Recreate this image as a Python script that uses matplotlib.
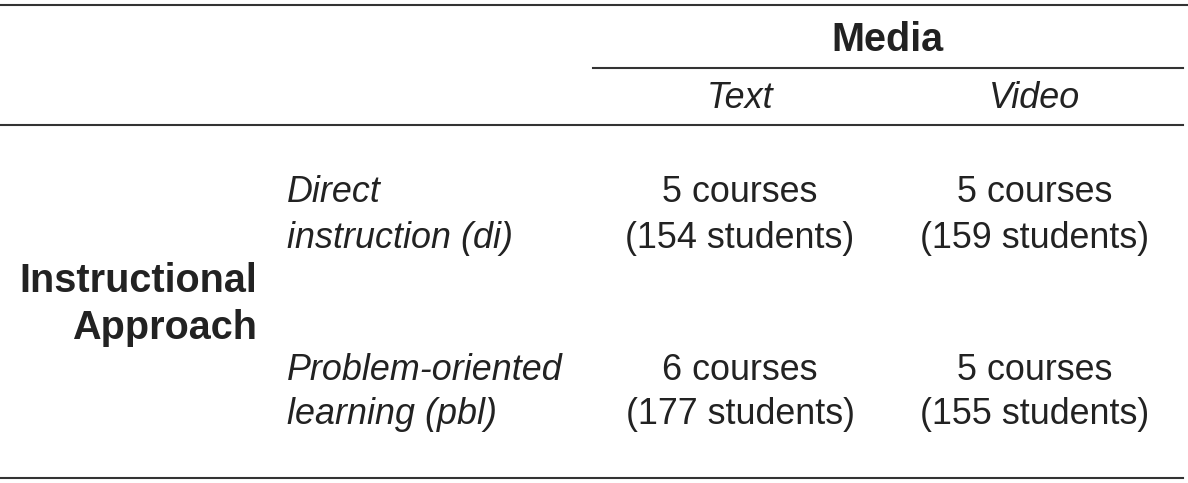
import matplotlib
matplotlib.use('Agg')
import matplotlib.pyplot as plt

plt.rcParams['font.family'] = ['Liberation Sans', 'DejaVu Sans']

col_header = "Media"
col_labels = ["Text", "Video"]
row_header = ["Instructional", "Approach"]
row_labels = [["Direct", "instruction (di)"], ["Problem-oriented", "learning (pbl)"]]
courses = [[5, 5], [6, 5]]
students = [[154, 159], [177, 155]]

W, H = 1188, 483
fig = plt.figure(figsize=(W / 100, H / 100), dpi=100)
ax = fig.add_axes([0, 0, 1, 1])
ax.set_xlim(0, W)
ax.set_ylim(H, 0)
ax.axis('off')

line_kw = dict(color='#333333', lw=1.5)
ax.plot([0, W], [5, 5], **line_kw)
ax.plot([593, 1183], [68, 68], **line_kw)
ax.plot([0, 1183], [125, 125], **line_kw)
ax.plot([0, 1183], [478, 478], **line_kw)

fs = 25.8
bfs = 28.5
col_x = [740, 1035]
row_y = [(193, 238), (371, 414)]
color = '#222222'

ax.text(887, 40, col_header, ha='center', va='center', fontsize=bfs, fontweight='bold', color=color)
for x, lab in zip(col_x, col_labels):
    ax.text(x, 98, lab, ha='center', va='center', fontsize=fs, style='italic', color=color)

ax.text(257, 281, row_header[0], ha='right', va='center', fontsize=bfs, fontweight='bold', color=color)
ax.text(257, 328, row_header[1], ha='right', va='center', fontsize=bfs, fontweight='bold', color=color)

for i, (y1, y2) in enumerate(row_y):
    ax.text(287, y1, row_labels[i][0], ha='left', va='center', fontsize=fs, style='italic', color=color)
    ax.text(287, y2, row_labels[i][1], ha='left', va='center', fontsize=fs, style='italic', color=color)
    for j, x in enumerate(col_x):
        ax.text(x, y1, f"{courses[i][j]} courses", ha='center', va='center', fontsize=fs, color=color)
        ax.text(x, y2, f"({students[i][j]} students)", ha='center', va='center', fontsize=fs, color=color)

fig.savefig('out.png', dpi=100, facecolor='white')
